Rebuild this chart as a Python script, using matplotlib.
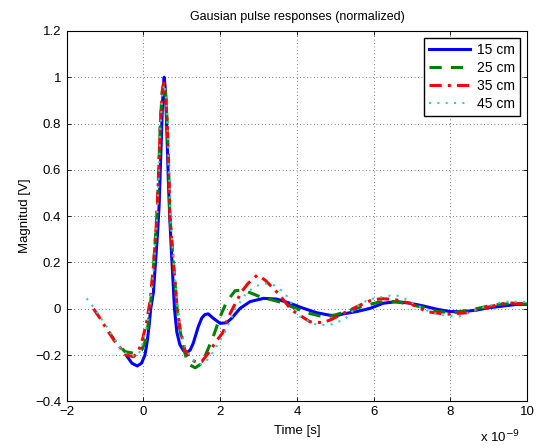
import matplotlib
matplotlib.use("Agg")
import matplotlib.pyplot as plt

plt.rcParams['font.family'] = ['Liberation Sans', 'DejaVu Sans']

labels = ["15 cm", "25 cm", "35 cm", "45 cm"]

# time in ns (axis is scaled x 10^-9)
t15 = [-0.45, -0.30, -0.16, -0.05, 0.04, 0.10, 0.15, 0.19, 0.26, 0.315, 0.37, 0.41, 0.45, 0.49, 0.515,
       0.54, 0.565, 0.59, 0.62, 0.65, 0.69, 0.745, 0.81, 0.87, 0.95, 1.04, 1.13, 1.22, 1.30, 1.43,
       1.52, 1.60, 1.69, 1.82, 2.0, 2.17, 2.30, 2.52, 2.78, 3.13, 3.47, 3.82, 4.17, 4.52, 4.86, 5.05,
       5.21, 5.56, 5.91, 6.25, 6.60, 6.95, 7.30, 7.65, 7.99, 8.34, 8.69, 9.03, 9.38, 9.73, 10.0]
v15 = [-0.20, -0.235, -0.247, -0.235, -0.20, -0.14, -0.07, 0.0, 0.07, 0.20, 0.33, 0.45, 0.65, 0.85, 0.95,
       1.0, 0.96, 0.87, 0.72, 0.55, 0.38, 0.20, 0.0, -0.10, -0.155, -0.18, -0.19, -0.178, -0.148, -0.077,
       -0.04, -0.025, -0.022, -0.041, -0.063, -0.06, -0.041, 0.002, 0.031, 0.045, 0.042, 0.024, 0.002, -0.017, -0.028, -0.029,
       -0.022, -0.012, 0.002, 0.024, 0.031, 0.024, 0.012, -0.002, -0.012, -0.013, -0.005, 0.005, 0.012, 0.019, 0.019]

t25 = [-0.90, -0.70, -0.48, -0.26, -0.045, 0.05, 0.12, 0.19, 0.27, 0.35, 0.40, 0.44, 0.49, 0.53,
       0.58, 0.62, 0.66, 0.69, 0.78, 0.88, 0.95, 1.04, 1.14, 1.22, 1.35, 1.48, 1.60, 1.82, 2.0, 2.17, 2.39,
       2.60, 2.80, 3.04, 3.52, 3.91, 4.26, 4.60, 4.80, 4.99, 5.47, 5.82, 6.12, 6.40, 6.70,
       7.21, 7.65, 8.08, 8.60, 9.12, 9.64, 10.0]
v25 = [-0.10, -0.149, -0.185, -0.192, -0.178, -0.14, -0.07, 0.03, 0.20, 0.40, 0.60, 0.80, 0.94, 0.98,
       0.93, 0.80, 0.60, 0.40, 0.20, 0.0, -0.09, -0.164, -0.228, -0.243, -0.255, -0.24, -0.207, -0.12, -0.034, 0.031, 0.078,
       0.081, 0.068, 0.052, 0.031, 0.006, -0.017, -0.031, -0.035, -0.027, -0.002, 0.016, 0.028, 0.033, 0.027,
       0.009, -0.012, -0.017, -0.002, 0.016, 0.024, 0.02]

t35 = [-1.30, -1.13, -0.95, -0.74, -0.44, -0.26, -0.13, -0.02, 0.08, 0.18, 0.27, 0.35, 0.40, 0.44, 0.49, 0.535,
       0.58, 0.62, 0.66, 0.69, 0.78, 0.88, 0.96, 1.08, 1.26, 1.40, 1.52, 1.70, 1.90, 2.08, 2.20, 2.37, 2.56, 2.73,
       2.97, 3.17, 3.51, 3.86, 4.34, 4.69, 4.91, 5.30, 5.65, 5.91, 6.20, 6.55, 6.95, 7.38, 7.90,
       8.43, 8.95, 9.47, 10.0]
v35 = [0.0, -0.041, -0.09, -0.142, -0.20, -0.207, -0.185, -0.13, -0.06, 0.04, 0.20, 0.40, 0.60, 0.80, 0.93, 0.975,
       0.92, 0.80, 0.60, 0.40, 0.20, 0.0, -0.09, -0.178, -0.221, -0.232, -0.228, -0.19, -0.14, -0.10, -0.04, 0.015, 0.074, 0.11,
       0.146, 0.124, 0.067, -0.005, -0.056, -0.06, -0.045, -0.012, 0.016, 0.035, 0.044, 0.04, 0.024, -0.012, -0.024,
       -0.017, 0.006, 0.026, 0.02]

t45 = [-1.48, -1.31, -1.13, -0.83, -0.57, -0.35, -0.13, -0.02, 0.08, 0.18, 0.27, 0.35, 0.40, 0.44, 0.49, 0.54,
       0.59, 0.63, 0.67, 0.70, 0.79, 0.89, 0.97, 1.10, 1.28, 1.45, 1.60, 1.80, 2.10, 2.40, 2.65, 2.85, 3.04, 3.25,
       3.43, 3.69, 4.08, 4.52, 4.86, 5.25, 5.56, 5.86, 6.25, 6.56, 6.86, 7.30, 7.73, 8.21, 8.77,
       9.38, 10.0]
v45 = [0.045, 0.009, -0.034, -0.11, -0.178, -0.204, -0.20, -0.15, -0.08, 0.02, 0.18, 0.38, 0.58, 0.78, 0.92, 0.97,
       0.92, 0.78, 0.58, 0.40, 0.20, 0.0, -0.09, -0.17, -0.22, -0.24, -0.235, -0.19, -0.11, 0.0, 0.06, 0.09, 0.105, 0.11,
       0.10, 0.067, -0.034, -0.07, -0.07, -0.045, 0.009, 0.04, 0.052, 0.06, 0.041, -0.002, -0.027, -0.034, 0.002,
       0.031, 0.03]

xticks = [-2, 0, 2, 4, 6, 8, 10]
yticks = [-0.4, -0.2, 0, 0.2, 0.4, 0.6, 0.8, 1, 1.2]
ytick_labels = ["\u22120.4", "\u22120.2", "0", "0.2", "0.4", "0.6", "0.8", "1", "1.2"]
xtick_labels = ["\u22122", "0", "2", "4", "6", "8", "10"]

fig = plt.figure(figsize=(5.39, 4.48), dpi=100)
ax = fig.add_axes([0.1237, 0.104, 0.978 - 0.1237, 0.931 - 0.104])

ax.plot(t15, v15, color=(0, 0, 1), lw=2.2, linestyle='-', label=labels[0])
ax.plot(t25, v25, color=(0, 0.5, 0), lw=2.2, linestyle=(0, (4, 3)), label=labels[1])
ax.plot(t35, v35, color=(1, 0, 0), lw=2.2, linestyle=(0, (4, 2, 1, 2)), label=labels[2])
ax.plot(t45, v45, color=(0.2, 0.8, 0.8), lw=1.5, linestyle=(0, (1, 3)), label=labels[3])

ax.set_xlim(-2, 10)
ax.set_ylim(-0.4, 1.2)
ax.set_xticks(xticks)
ax.set_xticklabels(xtick_labels)
ax.set_yticks(yticks)
ax.set_yticklabels(ytick_labels)
ax.tick_params(direction='in', top=True, right=True, labelsize=9.5, length=3, width=0.6)
ax.tick_params(axis='x', pad=3)
ax.tick_params(axis='y', pad=4)
ax.grid(True, color='black', linestyle=(0, (1, 4)), linewidth=0.5)
for s in ax.spines.values():
    s.set_linewidth(0.8)

ax.set_title("Gausian pulse responses (normalized)", fontsize=9, pad=8)
ax.set_xlabel("Time [s]", fontsize=9.5, labelpad=5)
ax.set_ylabel("Magnitud [V]", fontsize=9.5, labelpad=3)
fig.text(0.89, 0.012, "x 10$^{-9}$", fontsize=9.5)

leg = ax.legend(loc='upper right', fontsize=10, fancybox=False, framealpha=1,
                edgecolor='black', handlelength=3.0, borderaxespad=0.5,
                labelspacing=0.3, handletextpad=0.5, borderpad=0.35)
leg.get_frame().set_linewidth(1.0)

fig.savefig("out.png", dpi=100)
